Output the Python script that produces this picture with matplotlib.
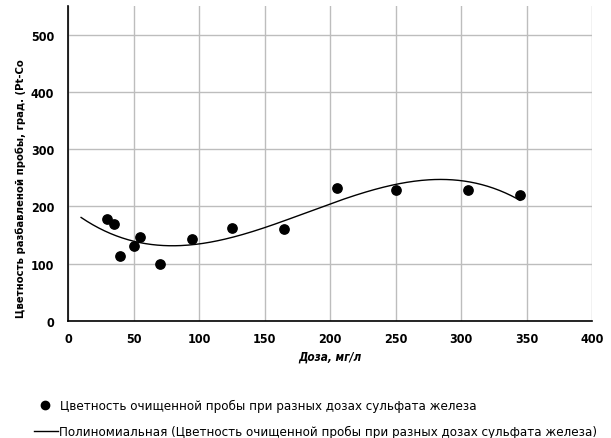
import numpy as np
import matplotlib
matplotlib.use("Agg")
import matplotlib.pyplot as plt
from matplotlib.lines import Line2D

# Doses of iron sulfate (mg/l) and colour of the treated sample (Pt-Co degrees)
dose = [30, 35, 40, 50, 55, 70, 95, 125, 165, 205, 250, 305, 345]
colour = [178, 169, 114, 131, 146, 99, 144, 163, 160, 233, 229, 229, 220]

x_ticks = [0, 50, 100, 150, 200, 250, 300, 350, 400]
y_ticks = [0, 100, 200, 300, 400, 500]

series_label = "Цветность очищенной пробы при разных дозах сульфата железа"
trend_label = "Полиномиальная (Цветность очищенной пробы при разных дозах сульфата железа)"

plt.rcParams['font.family'] = ['DejaVu Sans']

fig = plt.figure(figsize=(6.11, 4.39), dpi=100)
ax = fig.add_axes([68/611, 1 - 322/439, (592-68)/611, (322-7)/439])

# third-order polynomial trend line
coef = np.polyfit(dose, colour, 3)
xs = np.linspace(10, 345, 300)
ax.plot(xs, np.polyval(coef, xs), color="black", lw=1.0, zorder=2)

ax.scatter(dose, colour, s=45, color="black", zorder=3)

ax.set_xlim(0, 400)
ax.set_ylim(0, 550)
ax.set_xticks(x_ticks)
ax.set_yticks(y_ticks)
ax.grid(True, color="#bdbdbd", lw=1.0)
ax.set_axisbelow(True)
for s in ("top", "right"):
    ax.spines[s].set_visible(False)
for s in ("left", "bottom"):
    ax.spines[s].set_color("black")
    ax.spines[s].set_linewidth(1.2)
ax.tick_params(axis="y", length=0, labelsize=9, pad=10)
ax.tick_params(axis="x", length=0, labelsize=9, pad=8)
for lab in ax.get_xticklabels() + ax.get_yticklabels():
    lab.set_fontweight("bold")
    lab.set_fontstretch("condensed")

fig.text(330/611, 1 - 357/439, "Доза, мг/л", ha="center", va="center",
         fontsize=8.5, fontweight="bold", fontstyle="italic",
         fontstretch="condensed")
fig.text(21/611, 1 - 189/439, "Цветность разбавленой пробы, град. (Pt-Co",
         rotation=90, ha="center", va="center", fontsize=8.1, fontweight="bold",
         fontstretch="condensed")

# legend entries drawn below the plot area
legend_font = dict(fontsize=9.5, fontstretch="condensed",
                   family=["DejaVu Sans"])
fig.add_artist(Line2D([45/611], [1 - 406/439], marker="o", color="black",
                      markersize=6, linestyle="none"))
fig.text(60/611, 1 - 406/439, series_label, ha="left", va="center", **legend_font)
fig.add_artist(Line2D([34/611, 58/611], [1 - 432/439, 1 - 432/439],
                      color="black", lw=1.0))
fig.text(59/611, 1 - 432/439, trend_label, ha="left", va="center", **legend_font)

fig.savefig("out.png", dpi=100)
